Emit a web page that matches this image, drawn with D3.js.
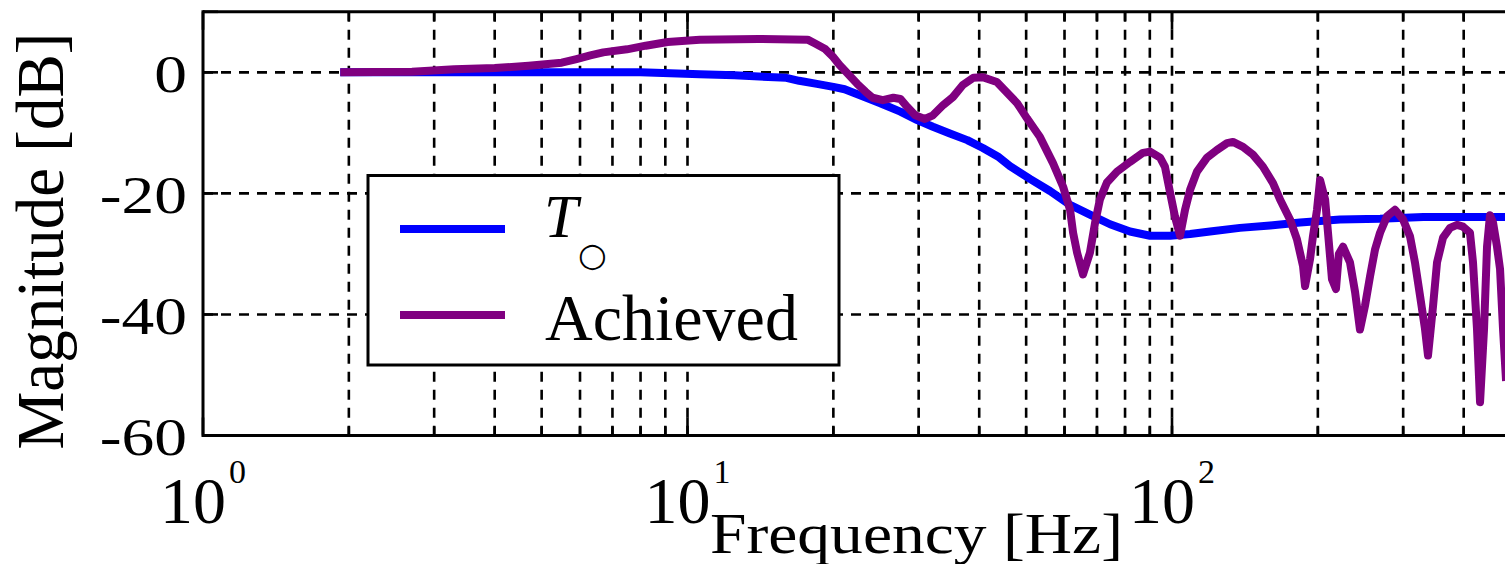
<!DOCTYPE html>
<html><head><meta charset="utf-8">
<script src="https://cdn.jsdelivr.net/npm/d3@7"></script>
<style>html,body{margin:0;padding:0;background:#fff;overflow:hidden} svg{display:block}</style>
</head><body><svg id="c" width="1505" height="564"></svg>
<script>
// ---- data ----
const targetFreq = [1.92, 3, 5, 8, 10.6, 12.5, 16, 17, 18.5, 20, 21.1, 22.7, 25, 27.5, 29.8, 32.1, 34.8, 37.8, 40.7, 43.7, 46.3, 50.9, 56, 61.6, 67.7, 74.5, 81.9, 90.1, 99.1, 109, 119.8, 138.1, 159.4, 183.8, 222.2, 268.8, 330, 400, 500];
const targetMag  = [0, 0, 0, 0, -0.3, -0.5, -0.9, -1.4, -1.9, -2.4, -2.8, -3.8, -5.1, -6.5, -7.9, -9.0, -10.1, -11.2, -12.5, -13.9, -15.5, -17.6, -19.6, -21.9, -23.5, -25.1, -26.3, -27.0, -27.0, -26.7, -26.3, -25.7, -25.3, -24.8, -24.3, -24.2, -23.9, -23.9, -23.9];

const achievedFreq = [1.92, 2.7, 3.3, 4.0, 4.7, 5.5, 5.9, 6.3, 6.7, 7.5, 8.2, 9.1, 10.6, 14, 17.7, 18.3, 19.2, 20, 20.6, 21.4, 22.4, 23.3, 24.1, 25.3, 26.6, 27.5, 28.4, 29.5, 30.9, 32.1, 33.7, 35.3, 37.0, 38.9, 40.7, 43.5, 47.9, 50.2, 53.4, 56.8, 59.6, 61.6, 62.5, 63.7, 65.5, 67.7, 69.4, 71.0, 73.4, 77.0, 81.9, 87.1, 90.1, 94.5, 96.7, 99.1, 101.4, 103.9, 106.4, 109.0, 112.6, 118.1, 123.9, 129.9, 133.6, 140.1, 146.9, 154.1, 161.6, 167.1, 175.2, 181.1, 186.4, 188.2, 192.7, 195.4, 199.2, 202.1, 207.0, 209.9, 213.9, 218.0, 221, 225.4, 233.0, 238.7, 244.3, 250.2, 256.3, 262.4, 268.8, 277.8, 288.6, 299.8, 309.9, 317.3, 325.0, 332.8, 337.6, 345.8, 352.4, 362.6, 374.9, 387.6, 398.8, 412.1, 418.1, 426.1, 432.3, 440.6, 446.9, 453.3, 459.8, 468.6, 475.4, 482.2, 489.2];
const achievedMag  = [0, 0.1, 0.5, 0.7, 1.1, 1.6, 2.2, 2.8, 3.3, 3.8, 4.4, 5.0, 5.4, 5.5, 5.4, 4.8, 3.9, 2.5, 1.2, -0.2, -1.9, -3.2, -4.2, -4.6, -4.2, -4.4, -5.7, -7.1, -7.7, -7.1, -5.4, -4.1, -2.1, -0.9, -0.8, -1.6, -5.1, -7.6, -10.7, -15.0, -18.9, -22.7, -26.5, -29.8, -33.4, -29.8, -24.8, -21.0, -18.2, -16.4, -14.8, -13.3, -13.1, -14.1, -15.6, -19.9, -23.8, -27.0, -22.7, -19.4, -16.4, -14.1, -12.8, -11.7, -11.5, -12.3, -13.6, -15.6, -18.3, -21.0, -24.3, -27.6, -32.0, -35.3, -30.9, -27.1, -22.7, -17.8, -21.0, -26.5, -34.2, -35.8, -30.0, -28.8, -31.4, -36.3, -42.5, -38.6, -33.7, -29.3, -26.5, -23.8, -22.7, -24.3, -27.1, -31.4, -36.9, -42.4, -46.8, -38.6, -31.4, -27.3, -25.7, -25.2, -25.5, -26.5, -31.4, -42.4, -54.5, -42.4, -28.8, -23.6, -24.8, -28.8, -32.5, -42.4, -51];

const yTickValues = [0, -20, -40, -60];
const yGridValues = [0, -20, -40];
const xTickExponents = [0, 1, 2];
const seriesNames = ["T", "Achieved"];
const seriesColors = ["#0000ff", "#800080"];

// ---- drawing ----
const W = 1505, H = 564;
const svg = d3.select('#c');
const x = d3.scaleLog().domain([1, 500]).range([203, 203 + 484.5 * Math.log10(500)]);
const y = d3.scaleLinear().domain([-60, 10]).range([435.5, 11.8]);
const pTop = y(10), pBot = y(-60), pLeft = x(1);

svg.append('defs').append('clipPath').attr('id', 'clip')
  .append('rect').attr('x', pLeft).attr('y', pTop).attr('width', W - pLeft + 20).attr('height', pBot - pTop);

// grid
const vgrid = [];
for (const d of [1, 10, 100]) for (let k = 2; k <= 10; k++) { const v = d * k; if (v < 500) vgrid.push(v); }
const grid = svg.append('g');
grid.selectAll('line.v').data(vgrid).join('line').attr('class', 'v')
  .attr('x1', d => x(d)).attr('x2', d => x(d)).attr('y1', pTop).attr('y2', pBot)
  .attr('stroke', '#000').attr('stroke-width', 2.6).attr('stroke-dasharray', '10,8');
grid.selectAll('line.h').data(yGridValues).join('line').attr('class', 'h')
  .attr('x1', pLeft).attr('x2', W).attr('y1', d => y(d)).attr('y2', d => y(d))
  .attr('stroke', '#000').attr('stroke-width', 2.6).attr('stroke-dasharray', '10,8');

// ticks
const ticks = svg.append('g').attr('stroke', '#000').attr('stroke-width', 2.6);
const majors = xTickExponents.map(e => Math.pow(10, e));
vgrid.filter(v => !majors.includes(v)).forEach(v => {
  ticks.append('line').attr('x1', x(v)).attr('x2', x(v)).attr('y1', pBot).attr('y2', pBot - 9);
  ticks.append('line').attr('x1', x(v)).attr('x2', x(v)).attr('y1', pTop).attr('y2', pTop + 9);
});
majors.forEach(v => {
  ticks.append('line').attr('x1', x(v)).attr('x2', x(v)).attr('y1', pBot).attr('y2', pBot - 18);
  ticks.append('line').attr('x1', x(v)).attr('x2', x(v)).attr('y1', pTop).attr('y2', pTop + 18);
});
yTickValues.concat([10]).forEach(v => {
  ticks.append('line').attr('x1', pLeft).attr('x2', pLeft + 15).attr('y1', y(v)).attr('y2', y(v));
});

// curves
const line = d3.line().x(d => x(d[0])).y(d => y(d[1]));
const plot = svg.append('g').attr('clip-path', 'url(#clip)');
plot.append('path').datum(d3.zip(targetFreq, targetMag)).attr('d', line)
  .attr('fill', 'none').attr('stroke', seriesColors[0]).attr('stroke-width', 8)
  .attr('stroke-linejoin', 'round');
plot.append('path').datum(d3.zip(achievedFreq, achievedMag)).attr('d', line)
  .attr('fill', 'none').attr('stroke', seriesColors[1]).attr('stroke-width', 8)
  .attr('stroke-linejoin', 'round');

// frame
const frame = svg.append('g').attr('stroke', '#000').attr('stroke-width', 3).attr('fill', 'none');
frame.append('line').attr('x1', pLeft).attr('x2', W).attr('y1', pTop).attr('y2', pTop);
frame.append('line').attr('x1', pLeft).attr('x2', W).attr('y1', pBot).attr('y2', pBot);
frame.append('line').attr('x1', pLeft).attr('x2', pLeft).attr('y1', pTop - 1.5).attr('y2', pBot + 1.5);

// y tick labels
const serif = '"Liberation Serif", "Times New Roman", serif';
svg.append('g').selectAll('text').data(yTickValues).join('text')
  .attr('transform', d => `translate(187,${y(d) + 19.7}) scale(1.26,1)`)
  .attr('text-anchor', 'end').attr('font-family', serif).attr('font-size', 52)
  .text(d => d === 0 ? '0' : '-' + Math.abs(d));

// x tick labels 10^n
const xl = svg.append('g').selectAll('text').data(xTickExponents).join('text')
  .attr('x', d => x(Math.pow(10, d))).attr('y', 523)
  .attr('text-anchor', 'middle').attr('font-family', serif).attr('font-size', 66);
xl.append('tspan').text('10');
xl.append('tspan').attr('dx', 3).attr('dy', -40).attr('font-size', 34).text(d => d);

// axis titles
svg.append('text').attr('transform', 'translate(916.5,553) scale(1.13,1)')
  .attr('text-anchor', 'middle').attr('font-family', serif).attr('font-size', 58)
  .text('Frequency [Hz]');
svg.append('text').attr('transform', 'translate(63,241) rotate(-90) scale(1,1.05)')
  .attr('text-anchor', 'middle').attr('font-family', serif).attr('font-size', 65)
  .text('Magnitude [dB]');

// legend
const lg = svg.append('g');
lg.append('rect').attr('x', 368).attr('y', 175.5).attr('width', 471).attr('height', 189.5)
  .attr('fill', '#fff').attr('stroke', '#000').attr('stroke-width', 3);
lg.append('line').attr('x1', 400).attr('x2', 505).attr('y1', 229).attr('y2', 229)
  .attr('stroke', seriesColors[0]).attr('stroke-width', 8);
lg.append('line').attr('x1', 400).attr('x2', 505).attr('y1', 315).attr('y2', 315)
  .attr('stroke', seriesColors[1]).attr('stroke-width', 8);
const t1 = lg.append('text').attr('x', 544).attr('y', 237).attr('font-family', serif).attr('font-size', 61);
t1.append('tspan').attr('font-style', 'italic').text(seriesNames[0]);
t1.append('tspan').attr('dx', 0).attr('dy', 29).attr('font-size', 33)
  .attr('font-family', '"DejaVu Sans", sans-serif').text('\u25CB');
lg.append('text').attr('x', 545).attr('y', 340).attr('font-family', serif).attr('font-size', 66)
  .text(seriesNames[1]);
</script></body></html>
